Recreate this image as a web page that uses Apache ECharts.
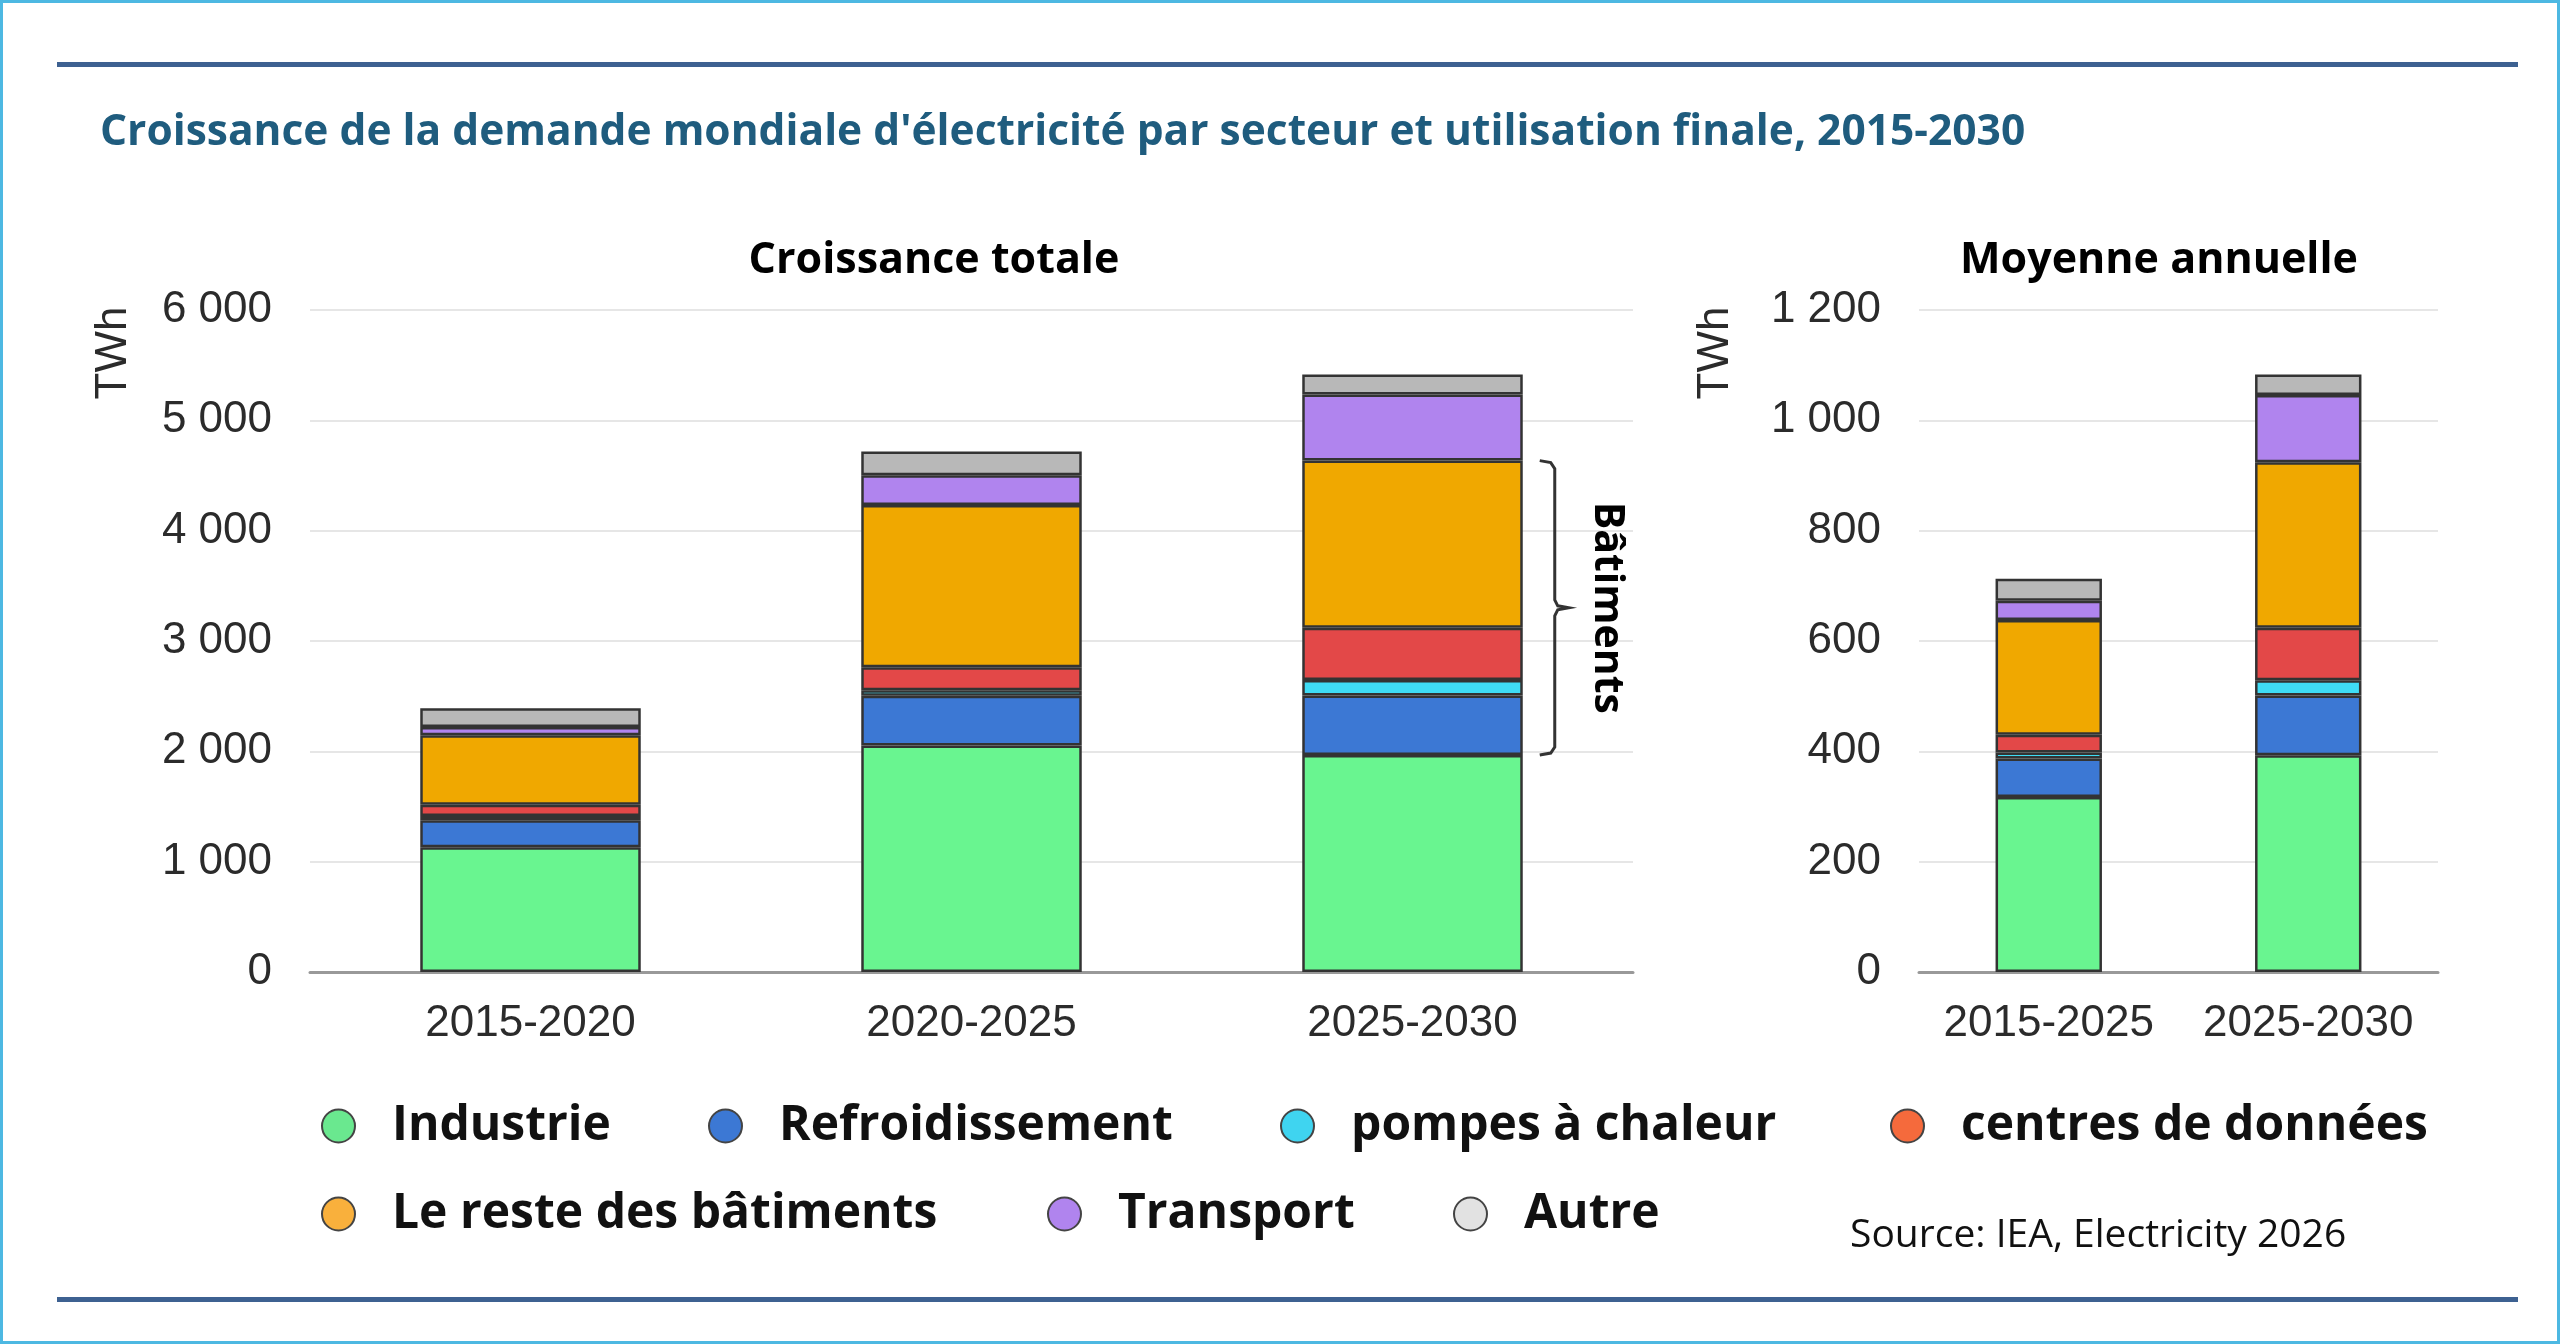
<!DOCTYPE html>
<html><head><meta charset="utf-8">
<script src="https://cdn.jsdelivr.net/npm/echarts@6/dist/echarts.min.js"></script>
<style>html,body{margin:0;padding:0;background:#fff}#c{width:2560px;height:1344px}</style>
</head><body><div id="c"></div>
<script>
// ---- data ----
const categoriesTotal = ['2015-2020', '2020-2025', '2025-2030'];
const categoriesAnnual = ['2015-2025', '2025-2030'];
const seriesNames = ['Industrie', 'Refroidissement', 'pompes à chaleur', 'centres de données', 'Le reste des bâtiments', 'Transport', 'Autre'];
const industrieTotal = [1130, 2053, 1966];
const refroidTotal = [245, 450, 540];
const pompesTotal = [40, 50, 140];
const centresTotal = [100, 210, 475];
const resteTotal = [630, 1470, 1514];
const transportTotal = [75, 270, 600];
const autreTotal = [170, 215, 180];
const industrieAnnual = [317, 393];
const refroidAnnual = [70, 108];
const pompesAnnual = [11, 28];
const centresAnnual = [32, 95];
const resteAnnual = [208, 300];
const transportAnnual = [35, 122];
const autreAnnual = [40, 37];
const yMaxTotal = 6000, yStepTotal = 1000;
const yMaxAnnual = 1200, yStepAnnual = 200;

const totalData = [industrieTotal, refroidTotal, pompesTotal, centresTotal, resteTotal, transportTotal, autreTotal];
const annualData = [industrieAnnual, refroidAnnual, pompesAnnual, centresAnnual, resteAnnual, transportAnnual, autreAnnual];
const barColors = ['#69f590', '#3c78d4', '#3fdcf5', '#e34848', '#f0a800', '#b084ee', '#b8b8b8'];
const legendColors = ['#6ae88f', '#3c78d4', '#3fd4f0', '#f56a3c', '#f9b03c', '#b084ee', '#e2e2e2'];

const fmt = v => String(v).replace(/\B(?=(\d{3})+(?!\d))/g, ' ');
const AX = '"Liberation Sans", Arial, sans-serif';
const TX = '"Open Sans", "Noto Sans", sans-serif';

const chart = echarts.init(document.getElementById('c'), null, {renderer: 'canvas'});

const series = [];
seriesNames.forEach((n, i) => {
  series.push({
    name: n, type: 'bar', stack: 'total', xAxisIndex: 0, yAxisIndex: 0,
    barWidth: '50%', data: totalData[i],
    itemStyle: {color: barColors[i], borderColor: '#333', borderWidth: 2.5},
    emphasis: {disabled: true}
  });
  series.push({
    name: n, type: 'bar', stack: 'annual', xAxisIndex: 1, yAxisIndex: 1,
    barWidth: '41%', data: annualData[i],
    itemStyle: {color: barColors[i], borderColor: '#333', borderWidth: 2.5},
    emphasis: {disabled: true}
  });
});

const legendPos = [
  [316, 1097], [703, 1097], [1275, 1097], [1885, 1097],
  [316, 1185], [1042, 1185], [1448, 1185]
];
const legends = seriesNames.map((n, i) => ({
  left: legendPos[i][0], top: legendPos[i][1],
  icon: 'circle', itemWidth: 33, itemHeight: 33,
  selectedMode: false,
  data: [{name: n, itemStyle: {color: legendColors[i], borderColor: '#444', borderWidth: 2}}],
  textStyle: {fontFamily: TX, fontSize: 48, fontWeight: 700, color: '#111', padding: [0, 0, 0, 32]}
}));

const yAxisCommon = {
  type: 'value', min: 0,
  axisLine: {show: false}, axisTick: {show: false},
  splitLine: {lineStyle: {color: '#e6e6e6', width: 2}},
  axisLabel: {fontFamily: AX, fontSize: 44, color: '#2b2b2b', margin: 38, formatter: fmt}
};
const xAxisCommon = {
  type: 'category',
  axisLine: {lineStyle: {color: '#999', width: 3}}, axisTick: {show: false},
  axisLabel: {fontFamily: AX, fontSize: 44, color: '#2b2b2b', margin: 30, interval: 0}
};

chart.setOption({
  animation: false,
  backgroundColor: '#fff',
  title: [
    {text: "Croissance de la demande mondiale d'électricité par secteur et utilisation finale, 2015-2030",
     left: 95, top: 106, textStyle: {fontFamily: TX, fontSize: 42.5, fontWeight: 700, color: '#1f5c7e'}},
    {text: 'Croissance totale', left: 929, top: 234, textAlign: 'center',
     textStyle: {fontFamily: TX, fontSize: 43, fontWeight: 700, color: '#000'}},
    {text: 'Moyenne annuelle', left: 2154, top: 234, textAlign: 'center',
     textStyle: {fontFamily: TX, fontSize: 43, fontWeight: 700, color: '#000'}}
  ],
  legend: legends,
  grid: [
    {left: 310, right: 927, top: 310, bottom: 372},
    {left: 1919, right: 122, top: 310, bottom: 372}
  ],
  xAxis: [
    Object.assign({gridIndex: 0, data: categoriesTotal}, xAxisCommon),
    Object.assign({gridIndex: 1, data: categoriesAnnual}, xAxisCommon)
  ],
  yAxis: [
    Object.assign({gridIndex: 0, max: yMaxTotal, interval: yStepTotal}, yAxisCommon),
    Object.assign({gridIndex: 1, max: yMaxAnnual, interval: yStepAnnual}, yAxisCommon)
  ],
  series: series
});

// ---- annotations computed from the axes ----
const cat = categoriesTotal[2];
const p = v => chart.convertToPixel({xAxisIndex: 0, yAxisIndex: 0}, [cat, v]);
const c0 = chart.convertToPixel({xAxisIndex: 0, yAxisIndex: 0}, [categoriesTotal[0], 0])[0];
const c1 = chart.convertToPixel({xAxisIndex: 0, yAxisIndex: 0}, [categoriesTotal[1], 0])[0];
const band = c1 - c0;
const bldBottom = industrieTotal[2];
const bldTop = industrieTotal[2] + refroidTotal[2] + pompesTotal[2] + centresTotal[2] + resteTotal[2];
const cx = p(0)[0];
const yT = p(bldTop)[1], yB = p(bldBottom)[1], yM = (yT + yB) / 2;
const x0 = cx + band * 0.25 + 17, x1 = x0 + 15, x2 = x1 + 14;

chart.setOption({
  graphic: [
    {type: 'rect', shape: {x: 1.5, y: 1.5, width: 2557, height: 1341}, style: {fill: 'none', stroke: '#4db8e2', lineWidth: 3}, silent: true},
    {type: 'rect', shape: {x: 57, y: 62, width: 2461, height: 5}, style: {fill: '#3d6191'}, silent: true},
    {type: 'rect', shape: {x: 57, y: 1297, width: 2461, height: 5}, style: {fill: '#3d6191'}, silent: true},
    {type: 'text', x: 114, y: 353, rotation: Math.PI / 2,
     style: {text: 'TWh', fontFamily: AX, fontSize: 44, fill: '#2b2b2b', align: 'center', verticalAlign: 'middle'}},
    {type: 'text', x: 1716, y: 353, rotation: Math.PI / 2,
     style: {text: 'TWh', fontFamily: AX, fontSize: 44, fill: '#2b2b2b', align: 'center', verticalAlign: 'middle'}},
    {type: 'polyline', shape: {points: [[x0, yT], [x1 - 4, yT + 2], [x1, yT + 8], [x1, yM - 8], [x1 + 3, yM - 2], [x2, yM], [x1 + 3, yM + 2], [x1, yM + 8], [x1, yB - 8], [x1 - 4, yB - 2], [x0, yB]]},
     style: {stroke: '#333', lineWidth: 3, fill: 'none'}},
    {type: 'text', x: x1 + 52, y: yM, rotation: -Math.PI / 2,
     style: {text: 'Bâtiments', fontFamily: TX, fontSize: 41, fontWeight: 700, fill: '#000', align: 'center', verticalAlign: 'middle'}},
    {type: 'text', x: 1850, y: 1236,
     style: {text: 'Source: IEA, Electricity 2026', fontFamily: TX, fontSize: 39, fill: '#111', align: 'left', verticalAlign: 'middle'}}
  ]
});
</script></body></html>
